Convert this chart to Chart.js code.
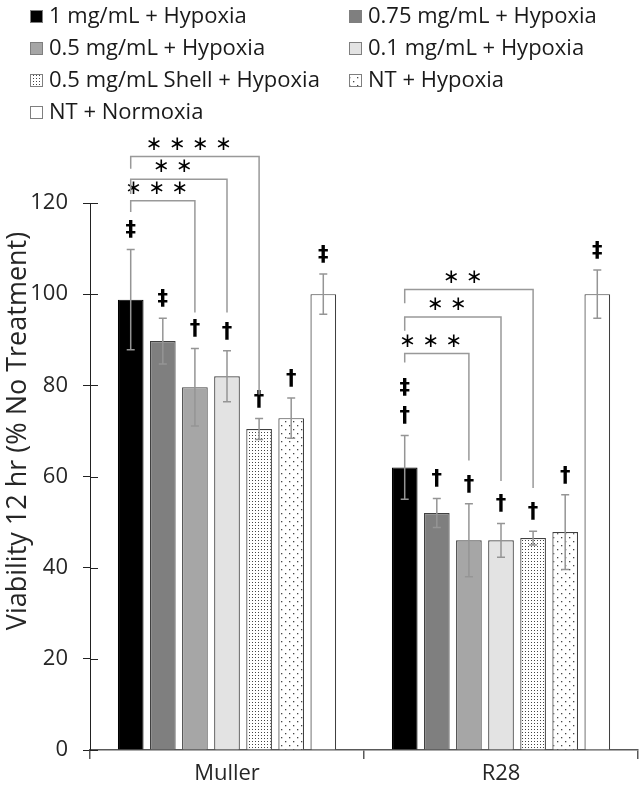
<!DOCTYPE html>
<html>
<head>
<meta charset="utf-8">
<script src="https://cdn.jsdelivr.net/npm/chart.js@4.4.0/dist/chart.umd.min.js"></script>
<style>
  body { margin: 0; background: #fff; }
  #wrap { width: 640px; height: 796px; position: relative; }
</style>
</head>
<body>
<div id="wrap"><canvas id="myChart"></canvas></div>
<script>
// data
var categories = ["Muller", "R28"];
var seriesNames = [
  "1 mg/mL + Hypoxia",
  "0.75 mg/mL + Hypoxia",
  "0.5 mg/mL + Hypoxia",
  "0.1 mg/mL + Hypoxia",
  "0.5 mg/mL Shell + Hypoxia",
  "NT + Hypoxia",
  "NT + Normoxia"
];
var muller = [98.8, 89.7, 79.6, 82.0, 70.4, 72.8, 100.0];
var r28 = [62.0, 52.0, 46.0, 46.0, 46.5, 47.8, 100.0];
var mullerErr = [11.0, 5.0, 8.5, 5.6, 2.3, 4.4, 4.4];
var r28Err = [7.0, 3.2, 8.0, 3.7, 1.5, 8.2, 5.3];
var mullerMarks = [["‡"], ["‡"], ["†"], ["†"], ["†"], ["†"], ["‡"]];
var r28Marks = [["†", "‡"], ["†"], ["†"], ["†"], ["†"], ["†"], ["‡"]];
var yTicks = [0, 20, 40, 60, 80, 100, 120];
var yTitle = "Viability 12 hr (% No Treatment)";
// brackets: category, from series, to series, level, left leg end, right leg end, stars
var brackets = [
  [0, 0, 2, 120.5, 118, 96, "***"],
  [0, 0, 3, 125.2, 122, 96, "**"],
  [0, 0, 4, 130.2, 127.5, 78, "****"],
  [1, 0, 2, 87.0, 85, 63.5, "***"],
  [1, 0, 3, 95.0, 92, 59, "**"],
  [1, 0, 4, 101.0, 98, 57.5, "**"]
];

function dots(size, pts, dot) {
  var c = document.createElement("canvas");
  c.width = size; c.height = size;
  var g = c.getContext("2d");
  g.fillStyle = "#fff";
  g.fillRect(0, 0, size, size);
  g.fillStyle = "#444";
  pts.forEach(function (p) { g.fillRect(p[0], p[1], dot, dot); });
  return g.createPattern(c, "repeat");
}

var fills = [
  "#000000",
  "#7f7f7f",
  "#a6a6a6",
  "#e3e3e3",
  dots(3, [[0, 0]], 1),
  dots(8, [[1, 1], [5, 5]], 1.3),
  "#ffffff"
];
var borders = ["#000", "#404040", "#404040", "#404040", "#404040", "#404040", "#404040"];

var errs = [mullerErr, r28Err];
var marks = [mullerMarks, r28Marks];

var datasets = seriesNames.map(function (name, i) {
  return {
    label: name,
    data: [muller[i], r28[i]],
    backgroundColor: fills[i],
    borderColor: borders[i],
    borderWidth: 1.2,
    categoryPercentage: 0.82,
    barPercentage: 0.8
  };
});

var extras = {
  id: "extras",
  afterDatasetsDraw: function (chart) {
    var ctx = chart.ctx, y = chart.scales.y;
    ctx.save();
    // error bars and significance symbols
    chart.data.datasets.forEach(function (ds, i) {
      var meta = chart.getDatasetMeta(i);
      meta.data.forEach(function (bar, j) {
        var v = ds.data[j], e = errs[j][i];
        var yt = y.getPixelForValue(v + e), yb = y.getPixelForValue(v - e);
        ctx.strokeStyle = "#959595";
        ctx.lineWidth = 1.5;
        ctx.beginPath();
        ctx.moveTo(bar.x, yt); ctx.lineTo(bar.x, yb);
        ctx.moveTo(bar.x - 4, yt); ctx.lineTo(bar.x + 4, yt);
        ctx.moveTo(bar.x - 4, yb); ctx.lineTo(bar.x + 4, yb);
        ctx.stroke();
        ctx.fillStyle = "#000";
        ctx.font = "bold 21px 'DejaVu Sans'";
        ctx.textAlign = "center";
        ctx.textBaseline = "bottom";
        marks[j][i].forEach(function (m, k) {
          ctx.fillText(m, bar.x, yt - 8 - k * 28);
        });
      });
    });
    // brackets
    brackets.forEach(function (b) {
      var x1 = chart.getDatasetMeta(b[1]).data[b[0]].x;
      var x2 = chart.getDatasetMeta(b[2]).data[b[0]].x;
      var yl = y.getPixelForValue(b[3]);
      ctx.strokeStyle = "#999";
      ctx.lineWidth = 1.5;
      ctx.beginPath();
      ctx.moveTo(x1, y.getPixelForValue(b[4]));
      ctx.lineTo(x1, yl);
      ctx.lineTo(x2, yl);
      ctx.lineTo(x2, y.getPixelForValue(b[5]));
      ctx.stroke();
      ctx.fillStyle = "#000";
      ctx.font = "20px 'DejaVu Sans'";
      ctx.textAlign = "center";
      ctx.textBaseline = "middle";
      var stars = b[6].split("").join(" ");
      ctx.fillText(stars.replace(/\*/g, "∗"), (x1 + x2) / 2 - 6, yl - 12);
    });
    // inner half of y tick marks
    var xa = chart.chartArea.left;
    ctx.strokeStyle = "#222";
    ctx.lineWidth = 1;
    yTicks.forEach(function (t) {
      var py = Math.round(y.getPixelForValue(t)) + 0.5;
      ctx.beginPath();
      ctx.moveTo(xa, py); ctx.lineTo(xa + 8, py);
      ctx.stroke();
    });
    ctx.restore();
  },
  afterDraw: function (chart) {
    var ctx = chart.ctx;
    ctx.save();
    // y axis title, centred on the whole plot incl. the brackets
    ctx.font = "27px 'Open Sans'";
    ctx.fillStyle = "#262626";
    ctx.textAlign = "center";
    ctx.textBaseline = "middle";
    ctx.translate(18, 431);
    ctx.rotate(-Math.PI / 2);
    ctx.fillText(yTitle, 0, 0);
    ctx.setTransform(1, 0, 0, 1, 0, 0);
    // two-column legend
    ctx.font = "22px 'Open Sans'";
    ctx.textAlign = "left";
    chart.data.datasets.forEach(function (ds, i) {
      var col = i % 2, row = Math.floor(i / 2);
      var bx = col === 0 ? 30 : 349;
      var by = 16 + row * 32;
      ctx.fillStyle = ds.backgroundColor;
      ctx.fillRect(bx, by - 6, 13, 13);
      ctx.strokeStyle = "#7f7f7f";
      ctx.lineWidth = 1;
      ctx.strokeRect(bx + 0.5, by - 5.5, 12, 12);
      ctx.fillStyle = "#1a1a1a";
      ctx.fillText(ds.label, bx + 19, by + 1);
    });
    ctx.restore();
  }
};

Chart.defaults.font.family = "'Open Sans'";
Chart.defaults.font.size = 22;
Chart.defaults.color = "#262626";

var ctx = document.getElementById("myChart").getContext("2d");
var chart = new Chart(ctx, {
  type: "bar",
  data: { labels: categories, datasets: datasets },
  options: {
    responsive: true,
    maintainAspectRatio: false,
    animation: false,
    layout: { padding: { top: 203, right: 2, left: 2, bottom: 0 } },
    plugins: { legend: { display: false }, tooltip: { enabled: false } },
    scales: {
      x: {
        afterFit: function (axis) { axis.height = 46; },
        grid: { display: true, drawOnChartArea: false, color: "#595959", lineWidth: 1.5, tickLength: 9 },
        border: { color: "#595959", width: 1.5 },
        ticks: { padding: 2, color: "#262626" }
      },
      y: {
        min: 0, max: 120,
        afterFit: function (axis) { axis.width = 88; },
        afterBuildTicks: function (axis) {
          axis.ticks = yTicks.map(function (v) { return { value: v }; });
        },
        grid: { display: true, drawOnChartArea: false, color: "#222", tickLength: 7 },
        border: { color: "#222", width: 1 },
        ticks: { padding: 15, color: "#262626" },
        title: { display: false }
      }
    }
  },
  plugins: [extras]
});
</script>
</body>
</html>
